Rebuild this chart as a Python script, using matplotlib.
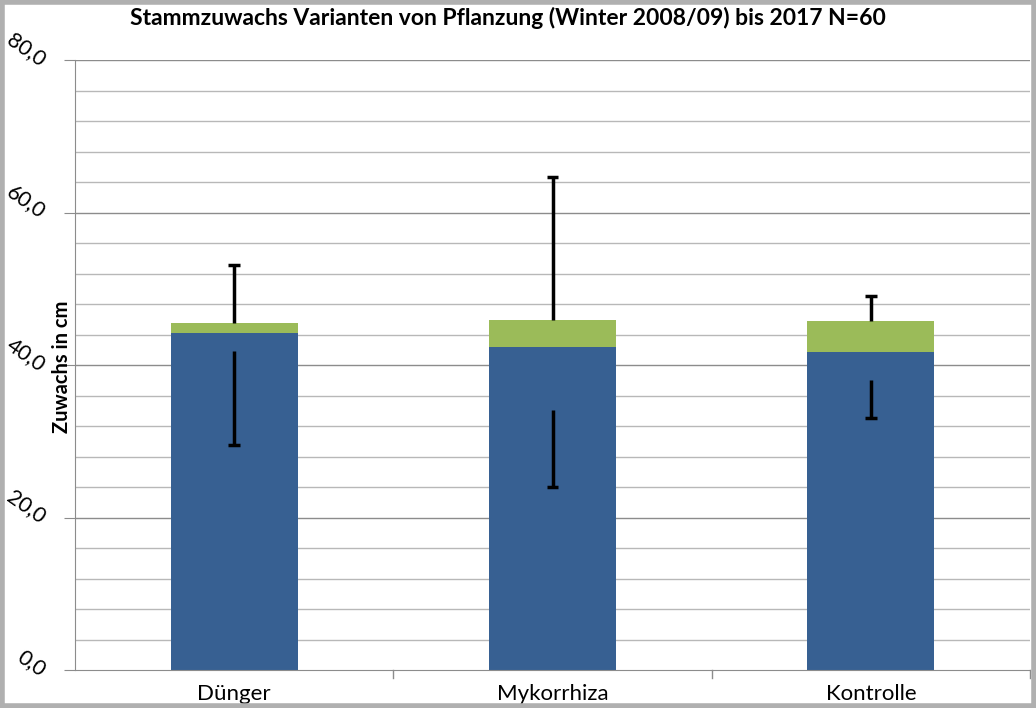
import numpy as np
import matplotlib.pyplot as plt
from matplotlib.patches import Rectangle

# values (cm)
categories = ["Dünger", "Mykorrhiza", "Kontrolle"]
blue_vals = [44.2, 42.3, 41.7]
green_vals = [1.3, 3.6, 4.1]
err_up = [53.1, 64.7, 49.1]        # upper cap of error bar
err_low_top = [41.9, 34.1, 38.0]   # start of lower error line
err_low = [29.5, 24.0, 33.1]       # lower cap
ytick_labels = ["0,0", "20,0", "40,0", "60,0", "80,0"]

blue = "#376092"
green = "#9bbb59"

plt.rcParams['font.family'] = ['Lato', 'DejaVu Sans']

fig = plt.figure(figsize=(10.36, 7.08), dpi=100)
ax = fig.add_axes([75/1036, 38/708, 955/1036, 610/708])

x = np.arange(len(categories)) + 0.5
w = 0.4
ax.bar(x, blue_vals, w, color=blue, zorder=2)
tops = np.array(blue_vals) + np.array(green_vals)
ax.bar(x, green_vals, w, bottom=blue_vals, color=green, zorder=2)

# error bars
cap = 0.018
ax.vlines(x, tops, err_up, color="black", lw=2.5, zorder=3)
ax.hlines(err_up, x - cap, x + cap, color="black", lw=2.5, zorder=3)
ax.vlines(x, err_low, err_low_top, color="black", lw=2.5, zorder=3)
ax.hlines(err_low, x - cap, x + cap, color="black", lw=2.5, zorder=3)

ax.set_xlim(0, 3)
ax.set_ylim(0, 80)

# gridlines every 4, darker at 20
for v in np.arange(4, 81, 4):
    c = "#8c8c8c" if v % 20 == 0 else "#b8b8b8"
    ax.axhline(v, color=c, lw=1, zorder=1)

ax.set_yticks(np.arange(0, 81, 20))
ax.set_yticklabels(ytick_labels, rotation=-35, fontsize=15.5, ha="right",
                   va="center_baseline", rotation_mode="anchor")
ax.tick_params(axis="y", length=8, color="#8c8c8c", pad=14)

ax.set_xticks(x)
ax.set_xticklabels(categories, fontsize=16)
ax.tick_params(axis="x", length=0, pad=10)
for xb in [1, 2, 3]:
    ax.plot([xb, xb], [0, -1.1], color="#8c8c8c", lw=1, clip_on=False)

for s in ["top", "right"]:
    ax.spines[s].set_visible(False)
ax.spines["left"].set_color("#8c8c8c")
ax.spines["bottom"].set_color("#8c8c8c")

fig.text(62/1036, 1 - 367/708, "Zuwachs in cm", rotation=90, fontsize=14.5,
         fontweight="bold", ha="center", va="center")
fig.text(508/1036, 1 - 18/708,
         "Stammzuwachs Varianten von Pflanzung (Winter 2008/09) bis 2017 N=60",
         fontsize=16.5, fontweight="bold", ha="center", va="center")

fig.patches.append(Rectangle((0.002, 0.003), 0.996, 0.994, transform=fig.transFigure,
                             fill=False, edgecolor="#b0b0b0", lw=4))

fig.savefig("out.png", dpi=100)
